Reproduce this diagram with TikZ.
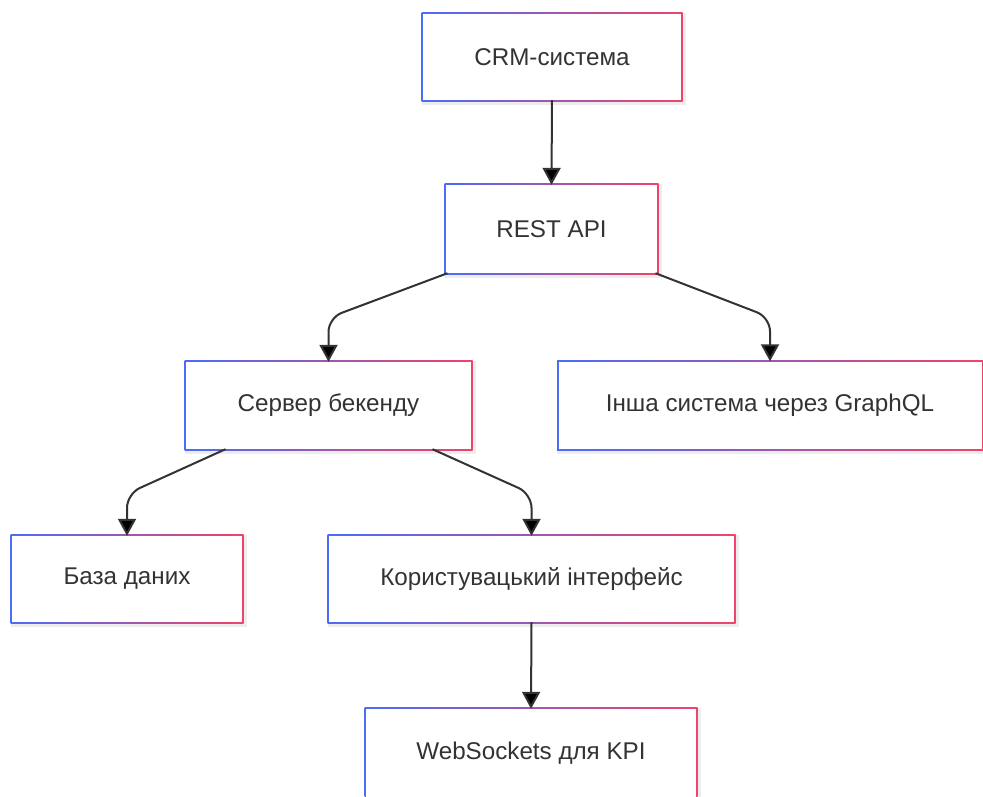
\documentclass[tikz,border=0pt]{standalone}
\usepackage{fontspec}
\setmainfont{Liberation Sans}
\usetikzlibrary{arrows.meta,calc,backgrounds}

\definecolor{edgeblue}{HTML}{4A6CF7}
\definecolor{edgepink}{HTML}{F0436B}
\definecolor{txt}{HTML}{333333}
\definecolor{wire}{HTML}{333333}

\tikzset{
  box/.style={fill=white, draw=none, inner sep=0pt, text=txt,
    font=\fontsize{24.2}{28}\selectfont},
  conn/.style={draw=wire, line width=2pt, rounded corners=14pt,
    -{Triangle[length=17pt,width=18pt,fill=black]}},
}

% gradient frame behind a named node
\newcommand{\gframe}[1]{%
  \begin{scope}[on background layer]
    \fill[black,opacity=0.07] ($(#1.south west)+(-1,5)$) rectangle ($(#1.north east)+(5,-1)$);
    \shade[left color=edgeblue, right color=edgepink]
      ($(#1.south west)+(-1.3,1.3)$) rectangle ($(#1.north east)+(1.3,-1.3)$);
  \end{scope}}

\begin{document}
\begin{tikzpicture}[x=1pt,y=-1pt]
  \useasboundingbox (0,0) rectangle (983,796);

  \node[box, minimum width=258pt, minimum height=86pt] (crm)    at (552,57)   {CRM-система};
  \node[box, minimum width=211pt, minimum height=88pt] (rest)   at (551.5,229) {REST API};
  \node[box, minimum width=285pt, minimum height=87pt] (server) at (328.5,405.5) {Сервер бекенду};
  \node[box, minimum width=423pt, minimum height=87pt] (other)  at (770,405)  {Інша система через GraphQL};
  \node[box, minimum width=230pt, minimum height=86pt] (db)     at (127,579)  {База даних};
  \node[box, minimum width=405pt, minimum height=86pt] (ui)     at (531.5,579) {Користувацький інтерфейс};
  \node[box, minimum width=330pt, minimum height=88pt] (ws)     at (531,753)  {WebSockets для KPI};

  \foreach \n in {crm,rest,server,other,db,ui,ws} {\gframe{\n}}

  \draw[conn] (crm.south) -- (rest.north);
  \draw[conn] ([xshift=-104pt]rest.south) -- ($(server.north)+(0,-44)$) -- (server.north);
  \draw[conn] ([xshift=104pt]rest.south) -- ($(other.north)+(0,-44)$) -- (other.north);
  \draw[conn] ([xshift=-103pt]server.south) -- ($(db.north)+(0,-42)$) -- (db.north);
  \draw[conn] ([xshift=104pt]server.south) -- ($(ui.north)+(0,-42)$) -- (ui.north);
  \draw[conn] (ui.south) -- (ws.north);
\end{tikzpicture}
\end{document}
